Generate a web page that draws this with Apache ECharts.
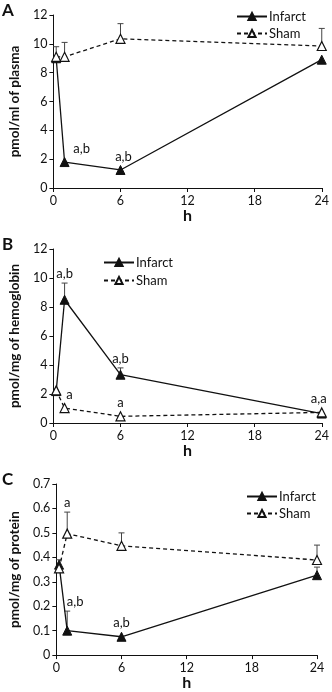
<!DOCTYPE html>
<html>
<head>
<meta charset="utf-8">
<script src="https://cdn.jsdelivr.net/npm/echarts@6/dist/echarts.min.js"></script>
<style>
  html, body { margin: 0; padding: 0; background: #fff; }
  #chart { width: 332px; height: 692px; }
</style>
</head>
<body>
<div id="chart"></div>
<script>
const hours = [0.25, 1, 6, 24];
const xTicks = [0, 6, 12, 18, 24];

// A: plasma
const plasmaInfarct = [9.0, 1.8, 1.25, 8.9];
const plasmaSham = [9.1, 9.1, 10.35, 9.85];
const plasmaInfarctErr = [null, null, null, null];
const plasmaShamErr = [9.8, 10.1, 11.4, 11.07];
const plasmaInfarctTags = ['', 'a,b', 'a,b', ''];
const plasmaShamTags = ['', '', '', ''];

// B: hemoglobin
const hbInfarct = [2.2, 8.5, 3.33, 0.65];
const hbSham = [2.25, 1.03, 0.46, 0.73];
const hbInfarctErr = [null, 9.65, 3.8, null];
const hbShamErr = [null, null, null, null];
const hbInfarctTags = ['', 'a,b', 'a,b', ''];
const hbShamTags = ['', 'a', 'a', 'a,a'];

// C: protein
const protInfarct = [0.37, 0.10, 0.075, 0.327];
const protSham = [0.355, 0.497, 0.447, 0.389];
const protInfarctErr = [null, 0.18, null, 0.36];
const protShamErr = [0.39, 0.585, 0.50, 0.45];
const protInfarctTags = ['', 'a,b', 'a,b', ''];
const protShamTags = ['', 'a', '', ''];

const FONT = 'Lato';
const INK = '#111';

// horizontal nudges for the little significance tags (pixels)
const tagShift = {
  A: { infarct: [0, 17, 3, 0], sham: [0, 0, 0, 0] },
  B: { infarct: [0, 0, 0, 0], sham: [0, 5, 0, -3] },
  C: { infarct: [0, 8, 0, 0], sham: [0, 0, 0, 0] }
};

const panels = [
  { key: 'A', yName: 'pmol/ml of plasma', max: 12, step: 2, infarct: plasmaInfarct, sham: plasmaSham,
    infErr: plasmaInfarctErr, shamErr: plasmaShamErr, infTags: plasmaInfarctTags, shamTags: plasmaShamTags,
    grid: { left: 47, top: 15, width: 278, height: 173 } },
  { key: 'B', yName: 'pmol/mg of hemoglobin', max: 12, step: 2, infarct: hbInfarct, sham: hbSham,
    infErr: hbInfarctErr, shamErr: hbShamErr, infTags: hbInfarctTags, shamTags: hbShamTags,
    grid: { left: 47, top: 249, width: 278, height: 174 } },
  { key: 'C', yName: 'pmol/mg of protein', max: 0.7, step: 0.1, infarct: protInfarct, sham: protSham,
    infErr: protInfarctErr, shamErr: protShamErr, infTags: protInfarctTags, shamTags: protShamTags,
    grid: { left: 46, top: 484, width: 271, height: 175 } }
];

function errRender(errs, tags, shifts) {
  return function (params, api) {
    const i = params.dataIndex;
    const x = api.value(0), y = api.value(1);
    const p = api.coord([x, y]);
    const children = [];
    let topY = p[1] - 7;
    if (errs[i] != null) {
      const t = api.coord([x, errs[i]]);
      const st = { stroke: '#444', lineWidth: 1 };
      children.push({ type: 'line', shape: { x1: p[0], y1: p[1], x2: t[0], y2: t[1] }, style: st });
      children.push({ type: 'line', shape: { x1: t[0] - 3, y1: t[1], x2: t[0] + 3, y2: t[1] }, style: st });
      topY = t[1] - 3;
    }
    if (tags[i]) {
      children.push({
        type: 'text',
        style: { x: p[0] + shifts[i], y: topY, text: tags[i], align: 'center', verticalAlign: 'bottom',
          fill: INK, font: '13px ' + FONT }
      });
    }
    return { type: 'group', children };
  };
}

const grids = [], xAxes = [], yAxes = [], series = [], graphics = [];
const legends = [
  { left: 231, top: 5, itemGap: 4 },
  { left: 98, top: 251, itemGap: 5 },
  { left: 241, top: 485, itemGap: 4 }
];

panels.forEach((pn, k) => {
  grids.push(pn.grid);
  xAxes.push({
    type: 'value', gridIndex: k, min: 0, max: 24, interval: 6,
    name: 'h', nameLocation: 'middle', nameGap: 19,
    nameTextStyle: { fontFamily: FONT, fontWeight: 'bold', fontSize: 16, color: INK },
    axisLine: { lineStyle: { color: INK, width: 1 } },
    axisTick: { show: true, length: 4, lineStyle: { color: INK } },
    axisLabel: { fontFamily: FONT, fontSize: 12.5, color: INK, margin: 6 },
    splitLine: { show: false }
  });
  yAxes.push({
    type: 'value', gridIndex: k, min: 0, max: pn.max, interval: pn.step,
    name: pn.yName, nameLocation: 'middle', nameGap: 28,
    nameTextStyle: { fontFamily: FONT, fontWeight: 'bold', fontSize: 13.5, color: INK },
    axisLine: { show: true, lineStyle: { color: INK, width: 1 } },
    axisTick: { show: true, length: 4, lineStyle: { color: INK } },
    axisLabel: { fontFamily: FONT, fontSize: 12.5, color: INK, margin: 6,
      formatter: v => pn.step < 1 ? (v === 0 ? '0' : v.toFixed(1)) : String(v) },
    splitLine: { show: false }
  });
  const sh = tagShift[pn.key];
  series.push({
    type: 'custom', xAxisIndex: k, yAxisIndex: k, z: 1, silent: true,
    renderItem: errRender(pn.shamErr, pn.shamTags, sh.sham),
    encode: { x: 0, y: 1 }, data: hours.map((h, i) => [h, pn.sham[i]])
  });
  series.push({
    type: 'custom', xAxisIndex: k, yAxisIndex: k, z: 1, silent: true,
    renderItem: errRender(pn.infErr, pn.infTags, sh.infarct),
    encode: { x: 0, y: 1 }, data: hours.map((h, i) => [h, pn.infarct[i]])
  });
  series.push({
    name: 'Infarct', type: 'line', xAxisIndex: k, yAxisIndex: k, z: 3,
    symbol: 'triangle', symbolSize: 9, showAllSymbol: true,
    lineStyle: { color: INK, width: 1.3, type: 'solid' },
    itemStyle: { color: INK, borderColor: INK, borderWidth: 1 },
    data: hours.map((h, i) => [h, pn.infarct[i]])
  });
  series.push({
    name: 'Sham', type: 'line', xAxisIndex: k, yAxisIndex: k, z: 4,
    symbol: 'triangle', symbolSize: 9, showAllSymbol: true,
    lineStyle: { color: INK, width: 1.3, type: [4, 3] },
    itemStyle: { color: '#fff', borderColor: INK, borderWidth: 1.2 },
    data: hours.map((h, i) => [h, pn.sham[i]])
  });
  graphics.push({
    type: 'text', left: 2, top: pn.grid.top - 13,
    style: { text: pn.key, font: 'bold 17px ' + FONT, fill: INK }
  });
});

const chart = echarts.init(document.getElementById('chart'));
chart.setOption({
  animation: false,
  backgroundColor: '#fff',
  grid: grids,
  xAxis: xAxes,
  yAxis: yAxes,
  legend: legends.map(l => Object.assign({
    orient: 'vertical', data: ['Infarct', 'Sham'], itemWidth: 30, itemHeight: 9,
    textStyle: { fontFamily: FONT, fontSize: 13, color: INK, padding: [0, 0, 0, -3] },
    selectedMode: false
  }, l)),
  graphic: graphics,
  series
});
</script>
</body>
</html>
